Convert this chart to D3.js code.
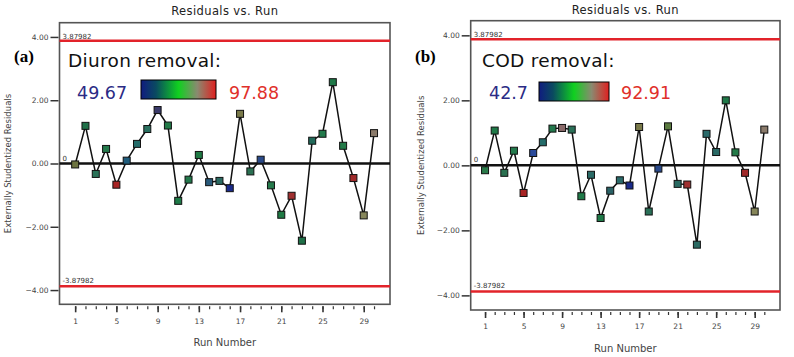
<!DOCTYPE html>
<html><head><meta charset="utf-8">
<script src="https://cdn.jsdelivr.net/npm/d3@7/dist/d3.min.js"></script>
<style>body{margin:0;background:#fff}svg{display:block}</style>
</head><body>
<svg id="c" width="794" height="357"></svg>
<script>
const runs = d3.range(1, 31);
const diuronResiduals = [-0.03, 1.19, -0.33, 0.46, -0.67, 0.09, 0.62, 1.09, 1.69, 1.20,
  -1.18, -0.51, 0.27, -0.59, -0.55, -0.78, 1.57, -0.25, 0.12, -0.69,
  -1.62, -1.02, -2.44, 0.72, 0.94, 2.57, 0.56, -0.46, -1.64, 0.96];
const codResiduals = [-0.15, 1.07, -0.23, 0.45, -0.85, 0.38, 0.71, 1.13, 1.15, 1.10,
  -0.95, -0.29, -1.62, -0.78, -0.46, -0.62, 1.18, -1.42, -0.10, 1.20,
  -0.57, -0.59, -2.44, 0.97, 0.41, 2.00, 0.40, -0.23, -1.42, 1.10];
const diuronColors = ["#6d7440","#1f7048","#2a7258","#257a4c","#a82424","#1f5c7c","#256c6a","#2a7060","#3a3a6a","#227a48",
  "#1f7a48","#23784c","#1f7a44","#2a5a7a","#2a6a62","#1a2a8a","#7a7a4a","#2a7052","#2a4a8a","#267a4c",
  "#1f7a44","#a03030","#1f7048","#226a5a","#237a4c","#1f7848","#237a48","#a02a2a","#86865a","#8a7a6a"];
const codColors = ["#2a7a4a","#1f7a48","#2a7050","#237a4c","#a82424","#2a4a9a","#256c6a","#23784c","#8a6a6a","#2a7058",
  "#1f7a48","#2a6a66","#1f7a48","#2a6266","#2a6a6a","#1a2a8a","#7a7a4a","#2a7058","#2a4a8a","#5a7a40",
  "#2a6a62","#a03030","#2a6a62","#2a6a6a","#2a6a66","#1f7848","#237a48","#a02a2a","#86865a","#8a7a6a"];
const yTicks = [4, 2, 0, -2, -4];
const xMajorTicks = [1, 5, 9, 13, 17, 21, 25, 29];
const limit = 3.87982;

const svg = d3.select("#c");

function panel(cfg) {
  const g = svg.append("g");
  const x = d3.scaleLinear().domain(cfg.xDomain).range([cfg.left, cfg.right]);
  const y = d3.scaleLinear().domain([-4.45, 4.45]).range([cfg.bottom, cfg.top]);

  // title
  g.append("text").attr("x", (cfg.left + cfg.right) / 2).attr("y", cfg.titleY)
    .attr("text-anchor", "middle").attr("font-family", "DejaVu Sans").attr("font-size", 11.5)
    .attr("letter-spacing", 0.4).attr("fill", "#222").text("Residuals vs. Run");

  // y axis
  const yAxis = d3.axisLeft(y).tickValues(yTicks).tickFormat(d3.format(".2f")).tickSize(8).tickPadding(2);
  const ya = g.append("g").attr("transform", `translate(${cfg.left - 1},0)`).call(yAxis);
  ya.select(".domain").remove();
  ya.selectAll("line").attr("stroke", "#333").attr("stroke-width", 1.5);
  ya.selectAll("text").attr("font-family", "DejaVu Sans").attr("font-size", 7.5).attr("fill", "#444");

  // x axis
  const xMinor = d3.axisBottom(x).tickValues(runs).tickSize(3).tickFormat("");
  const xm = g.append("g").attr("transform", `translate(0,${cfg.bottom + 2})`).call(xMinor);
  xm.select(".domain").remove();
  xm.selectAll("line").attr("stroke", "#333").attr("stroke-width", 1.2);
  const xAxis = d3.axisBottom(x).tickValues(xMajorTicks).tickSize(6).tickPadding(6);
  const xa = g.append("g").attr("transform", `translate(0,${cfg.bottom + 2})`).call(xAxis);
  xa.select(".domain").remove();
  xa.selectAll("line").attr("stroke", "#333").attr("stroke-width", 1.6);
  xa.selectAll("text").attr("font-family", "DejaVu Sans").attr("font-size", 7.5).attr("fill", "#444");

  // axis labels
  g.append("text").attr("x", (cfg.left + cfg.right) / 2).attr("y", cfg.xLabelY)
    .attr("text-anchor", "middle").attr("font-family", "DejaVu Sans").attr("font-size", 10)
    .attr("fill", "#444").text("Run Number");
  g.append("text").attr("transform", `translate(${cfg.yLabelX},${(cfg.top + cfg.bottom) / 2}) rotate(-90)`)
    .attr("text-anchor", "middle").attr("font-family", "DejaVu Sans").attr("font-size", 8.5)
    .attr("fill", "#444").text("Externally Studentized Residuals");

  // frame
  g.append("rect").attr("x", cfg.left).attr("y", cfg.top)
    .attr("width", cfg.right - cfg.left).attr("height", cfg.bottom - cfg.top)
    .attr("fill", "none").attr("stroke", "#555").attr("stroke-width", 1.6);

  // limit lines
  [limit, -limit].forEach(v => {
    g.append("line").attr("x1", cfg.left).attr("x2", cfg.right).attr("y1", y(v)).attr("y2", y(v))
      .attr("stroke", "#e2232a").attr("stroke-width", 2.5);
  });
  g.append("text").attr("x", cfg.left + 3).attr("y", y(limit) - 2).attr("font-family", "DejaVu Sans")
    .attr("font-size", 7).attr("fill", "#333").text("3.87982");
  g.append("text").attr("x", cfg.left + 3).attr("y", y(-limit) - 3).attr("font-family", "DejaVu Sans")
    .attr("font-size", 7).attr("fill", "#333").text("-3.87982");

  // zero line
  g.append("line").attr("x1", cfg.left).attr("x2", cfg.right).attr("y1", y(0)).attr("y2", y(0))
    .attr("stroke", "#111").attr("stroke-width", 2.5);
  g.append("text").attr("x", cfg.left + 3).attr("y", y(0) - 3).attr("font-family", "DejaVu Sans")
    .attr("font-size", 7).attr("fill", "#333").text("0");

  // series line
  const line = d3.line().x((d, i) => x(runs[i])).y(d => y(d));
  g.append("path").datum(cfg.values).attr("d", line).attr("fill", "none")
    .attr("stroke", "#111").attr("stroke-width", 1.5);

  // markers
  g.selectAll(".pt").data(cfg.values).enter().append("rect")
    .attr("x", (d, i) => x(runs[i]) - 3.5).attr("y", d => y(d) - 3.5)
    .attr("width", 7).attr("height", 7)
    .attr("fill", (d, i) => cfg.colors[i]).attr("stroke", "#111").attr("stroke-width", 1);

  // panel letter
  g.append("text").attr("x", cfg.letterX).attr("y", 62).attr("font-family", "Liberation Serif")
    .attr("font-weight", "bold").attr("font-size", 17).attr("fill", "#000").text(cfg.letter);

  // legend
  g.append("text").attr("x", cfg.legX).attr("y", 67).attr("font-family", "DejaVu Sans")
    .attr("font-size", 18.5).attr("letter-spacing", 0.3).attr("fill", "#111").text(cfg.legTitle);
  g.append("text").attr("x", cfg.lowX).attr("y", 99).attr("font-family", "DejaVu Sans")
    .attr("font-size", 17.5).attr("fill", "#2b2b85").text(cfg.low);
  g.append("text").attr("x", cfg.highX).attr("y", 99).attr("font-family", "DejaVu Sans")
    .attr("font-size", 17.5).attr("fill", "#e0302a").text(cfg.high);
  const gid = "grad" + cfg.letter.replace(/\W/g, "");
  const grad = svg.append("defs").append("linearGradient").attr("id", gid);
  [["0%", "#101c80"], ["20%", "#0a4a60"], ["50%", "#10d020"], ["75%", "#8a8a70"], ["100%", "#e02020"]]
    .forEach(s => grad.append("stop").attr("offset", s[0]).attr("stop-color", s[1]));
  g.append("rect").attr("x", cfg.gradX).attr("y", cfg.gradY).attr("width", cfg.gradW).attr("height", cfg.gradH)
    .attr("fill", `url(#${gid})`).attr("stroke", "#000").attr("stroke-width", 1);
}

panel({left: 59.5, right: 390, top: 22.7, bottom: 304.3, xDomain: [-0.52, 31.55],
  titleY: 15, xLabelY: 346, yLabelX: 11, values: diuronResiduals, colors: diuronColors,
  letter: "(a)", letterX: 14, legX: 68, legTitle: "Diuron removal:", low: "49.67", lowX: 77,
  high: "97.88", highX: 229, gradX: 141, gradY: 80, gradW: 75, gradH: 19});
panel({left: 470.7, right: 780, top: 20.7, bottom: 310, xDomain: [-0.49, 31.63],
  titleY: 14, xLabelY: 352, yLabelX: 424, values: codResiduals, colors: codColors,
  letter: "(b)", letterX: 415, legX: 482, legTitle: "COD removal:", low: "42.7", lowX: 489,
  high: "92.91", highX: 621, gradX: 539, gradY: 82, gradW: 70, gradH: 19});
</script>
</body></html>
